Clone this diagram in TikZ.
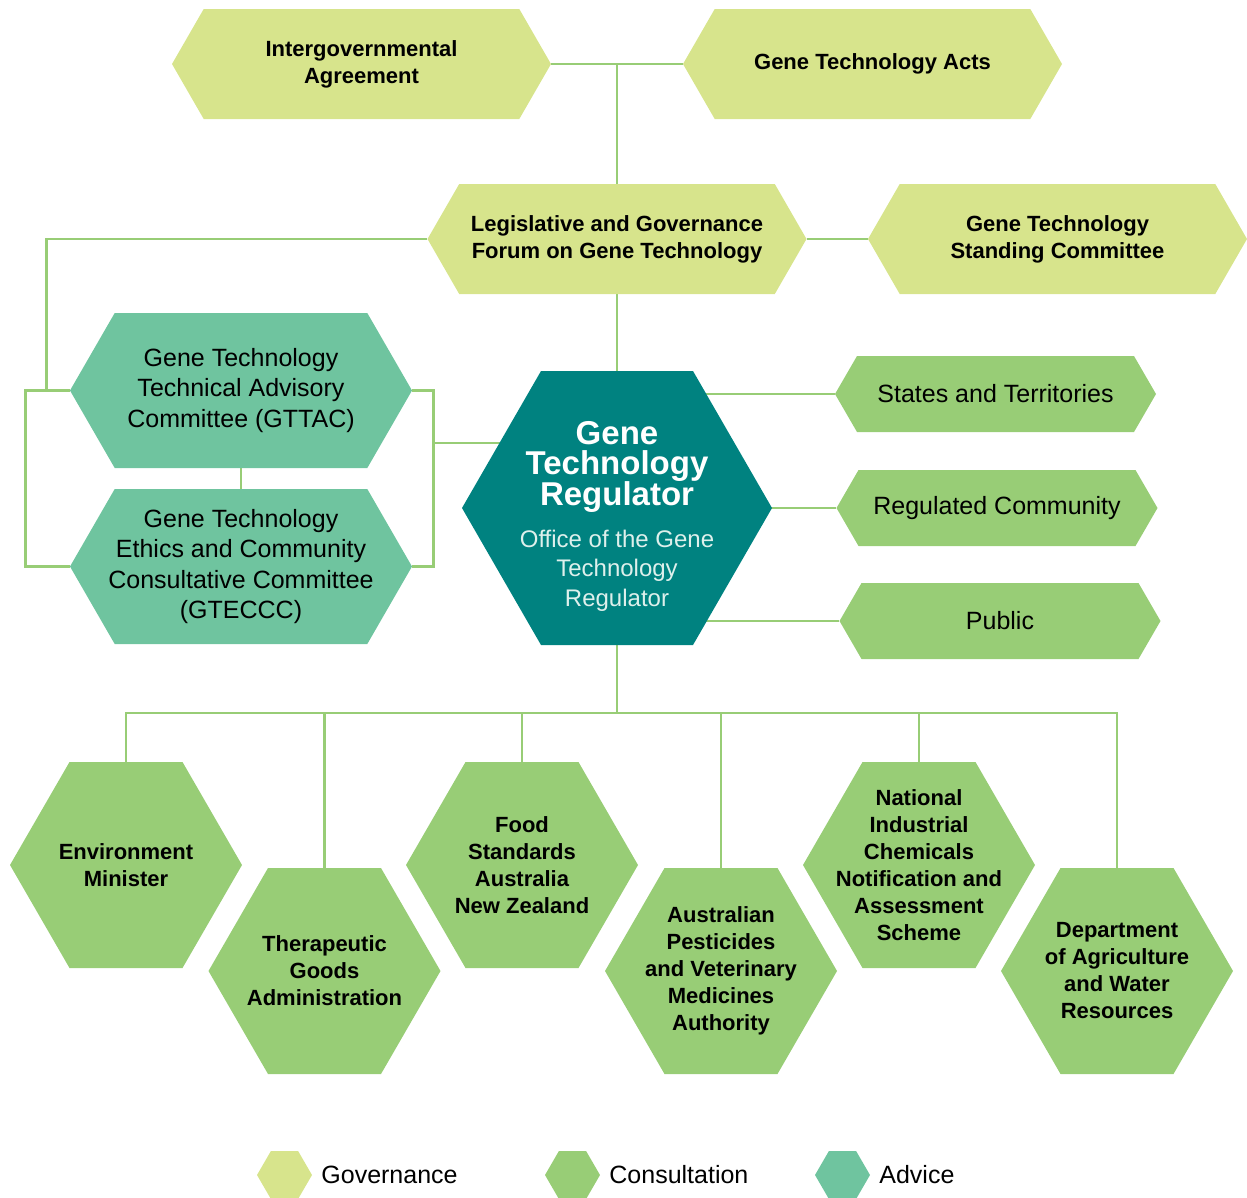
\documentclass[tikz,border=0pt]{standalone}
\usepackage{fontspec}
\setmainfont{Liberation Sans}
\usetikzlibrary{positioning,calc}
\pgfdeclarelayer{background}
\pgfsetlayers{background,main}

\definecolor{govcol}{RGB}{215,228,140}
\definecolor{concol}{RGB}{152,205,118}
\definecolor{advcol}{RGB}{111,196,159}
\definecolor{gtrcol}{RGB}{0,130,128}
\definecolor{subcol}{RGB}{222,240,236}

\newcommand{\gtrbig}{\fontsize{33}{30}\selectfont\bfseries\color{white}}

\tikzset{hexcolor/.store in=\hexcolor,hexcut/.store in=\hexcut,
  hex/.style={shape=rectangle,inner sep=0pt,align=center,
  path picture={\fill[\hexcolor] (path picture bounding box.west)
     -- ([xshift=\hexcut]path picture bounding box.north west)
     -- ([xshift=-\hexcut]path picture bounding box.north east)
     -- (path picture bounding box.east)
     -- ([xshift=-\hexcut]path picture bounding box.south east)
     -- ([xshift=\hexcut]path picture bounding box.south west) -- cycle;}}}

\begin{document}
\begin{tikzpicture}[x=1pt,y=-1pt]

\tikzstyle{gov}=[hex,hexcolor=govcol,hexcut=31.7pt,minimum width=379pt,minimum height=110pt,
                 font=\fontsize{22}{27}\selectfont\bfseries]
\tikzstyle{adv}=[hex,hexcolor=advcol,hexcut=44.7pt,minimum width=342pt,minimum height=155pt,
                 font=\fontsize{25}{30.5}\selectfont]
\tikzstyle{con}=[hex,hexcolor=concol,hexcut=22pt,minimum width=321pt,minimum height=76pt,
                 font=\fontsize{25}{30}\selectfont]
\tikzstyle{agency}=[hex,hexcolor=concol,hexcut=59.5pt,minimum width=232pt,minimum height=206pt,
                 font=\fontsize{22}{27}\selectfont\bfseries]
\tikzstyle{key}=[hex,hexcut=13.9pt,minimum width=55pt,minimum height=48pt]
\tikzstyle{legend}=[inner sep=0pt,font=\fontsize{25}{30}\selectfont]
\tikzstyle{link}=[draw=concol,line width=2.8pt]

\useasboundingbox (0,0) rectangle (1247,1197);

 % governance
 \node[gov] (iga)  at (361.5,64)  {Intergovernmental\\Agreement};
 \node[gov] (gta)  at (872.5,64)  {Gene Technology Acts};
 \node[gov] (lgf)  at (617,239)   {Legislative and Governance\\Forum on Gene Technology};
 \node[gov] (gtsc) at (1057.5,239) {Gene Technology\\Standing Committee};

 % advice
 \node[adv] (gttac)  at (241,390.5) {Gene Technology\\Technical Advisory\\Committee (GTTAC)};
 \node[adv] (gteccc) at (241,566.5) {Gene Technology\\Ethics and Community\\Consultative Committee\\(GTECCC)};

 % regulator
 \node[hex,hexcolor=gtrcol,hexcut=79pt,minimum width=310pt,minimum height=274pt,
       text=subcol,font=\fontsize{24}{29.5}\selectfont] (gtr) at (617,508)
      {{\gtrbig\rule{0pt}{40pt}Gene}\\{\gtrbig Technology}\\{\gtrbig Regulator}\\[12pt]
       Office of the Gene\\Technology\\Regulator};

 % consultation
 \node[con] (states) at (995.5,394) {States and Territories};
 \node[con] (regcom) at (997,508)   {Regulated Community};
 \node[con] (public) at (1000,621)  {Public};

 \node[agency] (env)    at (126,865) {Environment\\Minister};
 \node[agency] (tga)    at (324.5,971) {Therapeutic\\Goods\\Administration};
 \node[agency] (fsanz)  at (522,865) {Food\\Standards\\Australia\\New Zealand};
 \node[agency] (apvma)  at (721,971) {Australian\\Pesticides\\and Veterinary\\Medicines\\Authority};
 \node[agency] (nicnas) at (919,865) {National\\Industrial\\Chemicals\\Notification and\\Assessment\\Scheme};
 \node[agency] (dawr)   at (1117,971) {Department\\of Agriculture\\and Water\\Resources};

 % legend
 \node[key,hexcolor=govcol] (lgov) at (284.5,1175) {};
 \node[legend,right=9pt of lgov] (lgovtxt) {Governance};
 \node[key,hexcolor=concol] (lcon) at (572.5,1175) {};
 \node[legend,right=9pt of lcon] (lcontxt) {Consultation};
 \node[key,hexcolor=advcol] (ladv) at (842.5,1175) {};
 \node[legend,right=9pt of ladv] (ladvtxt) {Advice};

 \coordinate (advj) at (433,443);
 \coordinate (bus)  at (617,713);

\begin{pgfonlayer}{background}
 \draw[link] (iga.east) -- (gta.west);
 \draw[link] (lgf.north) -- (lgf.north |- iga.east);
 \draw[link] (lgf.east) -- (gtsc.west);
 \draw[link] (lgf.west) -| ([xshift=-23pt]gttac.west);
 \draw[link] (gttac.west) -- ++(-44,0) |- (gteccc.west);
 \draw[link] (gttac.east) -- ++(21,0) |- (gteccc.east);
 \draw[link] (gttac.south) -- (gteccc.north);
 \draw[link] (advj) -- (advj -| gtr.center);
 \draw[link] (lgf.south) -- (gtr.north);
 \foreach \n in {states,regcom,public}
   \draw[link] (\n.west) -- (\n.west -| gtr.center);
 \draw[link] (gtr.south) -- (bus);
 \draw[link] (env.north) |- (bus) -| (dawr.north);
 \foreach \n in {tga,fsanz,apvma,nicnas}
   \draw[link] (\n.north) -- (\n.north |- bus);
\end{pgfonlayer}

\end{tikzpicture}
\end{document}
